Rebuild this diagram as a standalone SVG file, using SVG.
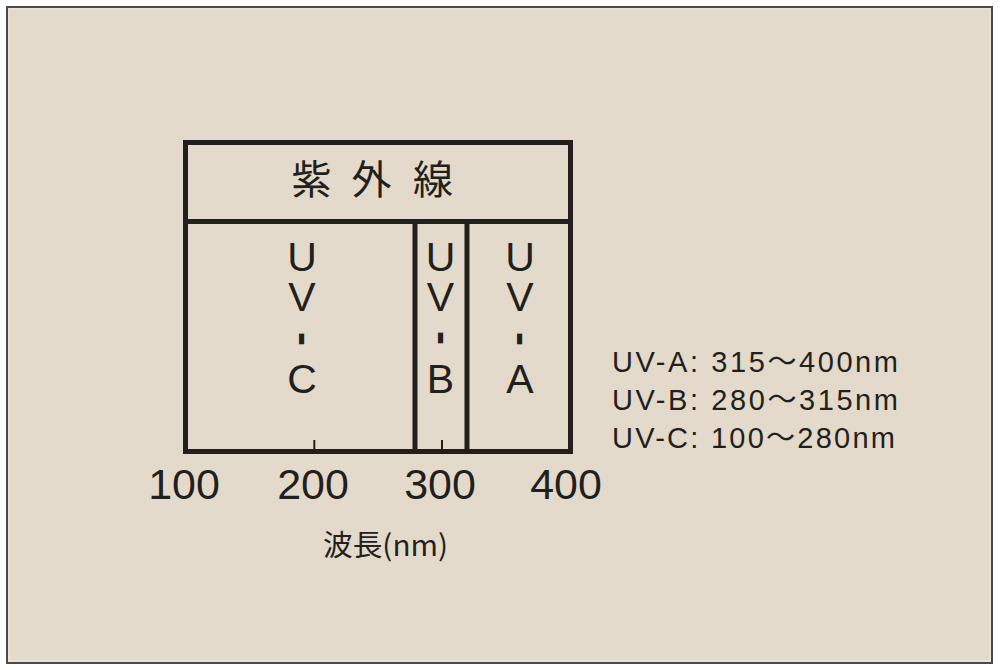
<svg xmlns="http://www.w3.org/2000/svg" width="1000" height="670" viewBox="0 0 1000 670">
<style>
.ln{stroke:#231f1c;stroke-width:5;fill:none}
.tk{stroke:#231f1c;stroke-width:2}
.lat{font-family:"Liberation Sans",Arial,sans-serif;fill:#231f1c}
.cjk{font-family:"Noto Sans CJK JP","Noto Sans CJK SC",sans-serif;fill:#231f1c}
.uv{font-size:41px;text-anchor:middle}
.dash{font-size:42px;text-anchor:middle;font-weight:bold}
.ax{font-size:43px;text-anchor:middle}
.lg{font-size:29px}
.tl{font-family:"Noto Sans CJK JP","Noto Sans CJK SC",sans-serif}
</style>
<rect x="0" y="0" width="1000" height="670" fill="#ffffff"/>
<rect x="7" y="7" width="985" height="656" fill="#e3dacb" stroke="#4a4a4a" stroke-width="2"/>
<rect x="9" y="9" width="981" height="652" fill="none" stroke="#f1e9da" stroke-width="1"/>
<g id="header">
<rect x="185.5" y="142.5" width="385" height="79" class="ln"/>
<text class="cjk" font-size="40" y="194" text-anchor="middle"><tspan x="311.5">紫</tspan><tspan x="371.5">外</tspan><tspan x="433">線</tspan></text>
</g>
<g id="uvc">
<text class="lat uv" x="302" y="271">U</text>
<text class="lat uv" x="302" y="311">V</text>
<text class="lat dash" x="302" y="350.8" transform="rotate(90 302 339)">-</text>
<text class="lat uv" x="302" y="393">C</text>
</g>
<g id="uvb">
<text class="lat uv" x="440.5" y="271">U</text>
<text class="lat uv" x="440.5" y="311">V</text>
<text class="lat dash" x="440.3" y="349.8" transform="rotate(90 440.3 338)">-</text>
<text class="lat uv" x="440.5" y="393">B</text>
</g>
<g id="uva">
<text class="lat uv" x="520" y="271">U</text>
<text class="lat uv" x="520" y="311">V</text>
<text class="lat dash" x="519.7" y="350.8" transform="rotate(90 519.7 339)">-</text>
<text class="lat uv" x="520" y="393">A</text>
</g>
<g id="connectors">
<rect x="185.5" y="221.5" width="385" height="230" class="ln"/>
<line x1="415" y1="221.5" x2="415" y2="451.5" class="ln" stroke-width="6"/>
<line x1="467" y1="221.5" x2="467" y2="451.5" class="ln"/>
<line x1="314.3" y1="440" x2="314.3" y2="451" class="tk"/>
<line x1="442" y1="440" x2="442" y2="451" class="tk"/>
</g>
<g id="axis">
<text class="lat ax" x="184" y="499">100</text>
<text class="lat ax" x="313" y="499">200</text>
<text class="lat ax" x="440" y="499">300</text>
<text class="lat ax" x="566" y="499">400</text>
<text class="cjk" font-size="29" x="323" y="556" textLength="125" lengthAdjust="spacingAndGlyphs">波長(nm)</text>
</g>
<g id="legend">
<text class="lat lg" x="612" y="372" textLength="286" lengthAdjust="spacing">UV-A: 315<tspan class="tl">～</tspan>400nm</text>
<text class="lat lg" x="612" y="410" textLength="286" lengthAdjust="spacing">UV-B: 280<tspan class="tl">～</tspan>315nm</text>
<text class="lat lg" x="612" y="448" textLength="283" lengthAdjust="spacing">UV-C: 100<tspan class="tl">～</tspan>280nm</text>
</g>
</svg>
